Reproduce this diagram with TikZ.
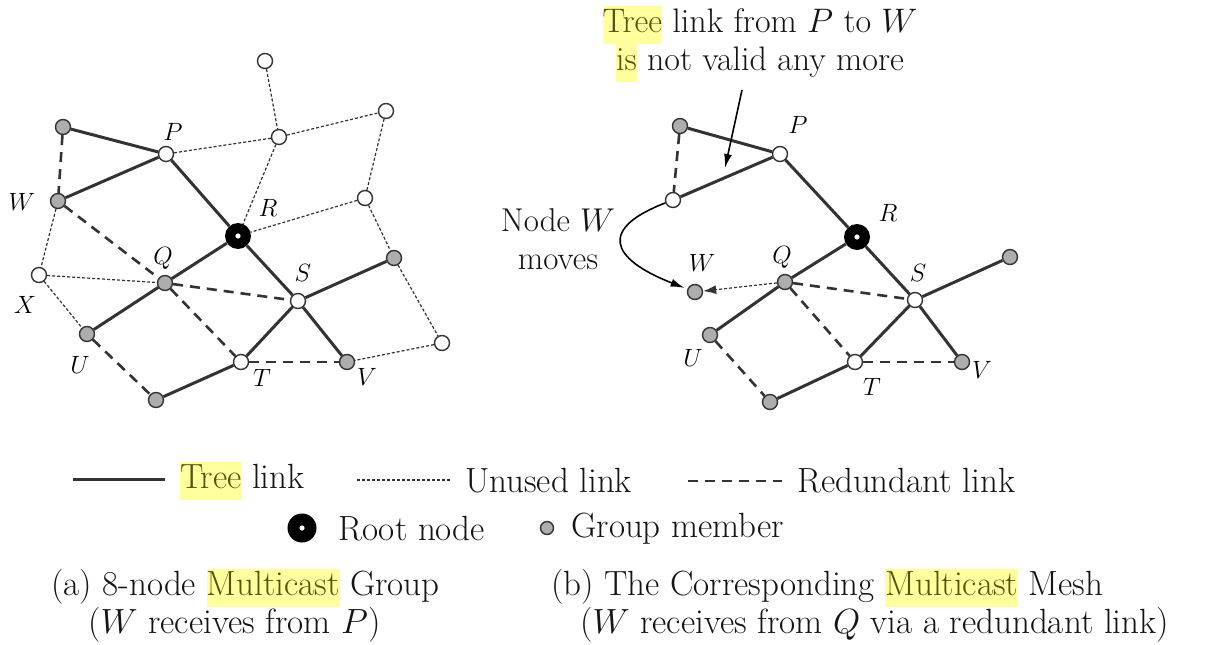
\RequirePackage{fix-cm}
\documentclass[tikz,border=0pt]{standalone}
\usepackage{tikz}
\usetikzlibrary{arrows.meta}

\definecolor{linegray}{gray}{0.2}
\definecolor{membergray}{gray}{0.68}
\definecolor{hlyellow}{rgb}{1,1,0.62}
\definecolor{hltext}{rgb}{0.33,0.33,0.05}
\newcommand{\hlword}[1]{{\setlength{\fboxsep}{0pt}\colorbox{hlyellow}{\strut\color{hltext}#1}}}

\tikzset{
  plain/.style={circle,draw=linegray,line width=1.4pt,fill=white,inner sep=0pt,minimum size=15pt},
  member/.style={plain,fill=membergray},
  root/.style={circle,fill=black,inner sep=0pt,minimum size=26pt,
    path picture={\fill[white] (path picture bounding box.center) circle (2.6pt);}},
  tree/.style={draw=linegray,line width=3pt},
  unused/.style={draw=linegray,line width=1.2pt,dash pattern=on 3pt off 2pt},
  redundant/.style={draw=linegray,line width=2.6pt,dash pattern=on 10pt off 7pt},
  lbl/.style={inner sep=0pt,font=\fontsize{25}{30}\selectfont},
  txt/.style={inner sep=0pt,anchor=west,text=black!92,font=\fontsize{35}{38}\selectfont}
}

\begin{document}
\begin{tikzpicture}[x=1pt,y=-1pt]

\useasboundingbox (0,0) rectangle (1205,645);

\node[plain] (aTop) at (265,61) {};
\node[member] (aA) at (63,127) {};
\node[plain] (aP) at (166,154) {};
\node[plain] (aRt) at (279,137) {};
\node[plain] (aFRt) at (386,111) {};
\node[member] (aW) at (58,201) {};
\node[root] (aR) at (238,236) {};
\node[plain] (aRM) at (365,198) {};
\node[plain] (aX) at (39,275) {};
\node[member] (aQ) at (165,283) {};
\node[member] (aRG) at (394,258) {};
\node[plain] (aS) at (298,301) {};
\node[member] (aU) at (87,334) {};
\node[plain] (aFRb) at (442,343) {};
\node[plain] (aT) at (241,362) {};
\node[member] (aV) at (347,362) {};
\node[member] (aB) at (156,400) {};

\draw[tree] (aA) -- (aP);
\draw[tree] (aP) -- (aW);
\draw[tree] (aP) -- (aR);
\draw[tree] (aR) -- (aQ);
\draw[tree] (aQ) -- (aU);
\draw[tree] (aR) -- (aS);
\draw[tree] (aS) -- (aV);
\draw[tree] (aS) -- (aT);
\draw[tree] (aT) -- (aB);
\draw[tree] (aS) -- (aRG);

\draw[unused] (aTop) -- (aRt);
\draw[unused] (aRt) -- (aP);
\draw[unused] (aRt) -- (aFRt);
\draw[unused] (aRt) -- (aR);
\draw[unused] (aFRt) -- (aRM);
\draw[unused] (aRM) -- (aR);
\draw[unused] (aRM) -- (aRG);
\draw[unused] (aRG) -- (aFRb);
\draw[unused] (aFRb) -- (aV);
\draw[unused] (aW) -- (aX);
\draw[unused] (aX) -- (aQ);
\draw[unused] (aX) -- (aU);

\draw[redundant] (aA) -- (aW);
\draw[redundant] (aW) -- (aQ);
\draw[redundant] (aQ) -- (aT);
\draw[redundant] (aQ) -- (aS);
\draw[redundant] (aU) -- (aB);
\draw[redundant] (aT) -- (aV);

\node[lbl] (aPl) at (173,132) {$P$};
\node[lbl] (aWl) at (22,202) {$W$};
\node[lbl] (aRl) at (268,208) {$R$};
\node[lbl] (aQl) at (163,258) {$Q$};
\node[lbl] (aSl) at (303,273) {$S$};
\node[lbl] (aXl) at (25,305) {$X$};
\node[lbl] (aUl) at (80,365) {$U$};
\node[lbl] (aTl) at (262,378) {$T$};
\node[lbl] (aVl) at (367,377) {$V$};

\node[member] (bA) at (680,126) {};
\node[plain] (bP) at (780,154) {};
\node[plain] (bWo) at (673,200) {};
\node[root] (bR) at (857,237) {};
\node[member] (bQ) at (785,282) {};
\node[member] (bWn) at (695,292) {};
\node[member] (bG) at (1010,257) {};
\node[plain] (bS) at (915,300) {};
\node[member] (bU) at (710,335) {};
\node[plain] (bT) at (855,362) {};
\node[member] (bV) at (962,362) {};
\node[member] (bB) at (770,402) {};

\draw[tree] (bA) -- (bP);
\draw[tree] (bP) -- (bWo);
\draw[tree] (bP) -- (bR);
\draw[tree] (bR) -- (bQ);
\draw[tree] (bQ) -- (bU);
\draw[tree] (bR) -- (bS);
\draw[tree] (bS) -- (bV);
\draw[tree] (bS) -- (bT);
\draw[tree] (bT) -- (bB);
\draw[tree] (bS) -- (bG);

\draw[redundant] (bA) -- (bWo);
\draw[redundant] (bQ) -- (bS);
\draw[redundant] (bQ) -- (bT);
\draw[redundant] (bU) -- (bB);
\draw[redundant] (bT) -- (bV);
\draw[unused,-{Latex[length=13pt,width=9pt]}] (bQ) -- (bWn);

\node[lbl] (bPl) at (798,125) {$P$};
\node[lbl] (bRl) at (888,213) {$R$};
\node[lbl] (bQl) at (782,257) {$Q$};
\node[lbl] (bSl) at (918,273) {$S$};
\node[lbl] (bUl) at (693,358) {$U$};
\node[lbl] (bTl) at (872,387) {$T$};
\node[lbl] (bVl) at (982,370) {$V$};
\node[lbl] (bWl) at (702,263) {$W$};

\node[inner sep=0pt,align=center,text=black!92,font=\fontsize{34}{38}\selectfont] (note) at (760,44)
  {\hlword{Tree} link from $P$ to $W$\\ \hlword{is} not valid any more};
\coordinate (noteTail) at (742,90);
\coordinate (noteTip) at (725,168);
\draw[line width=1.6pt,-{Latex[length=14pt,width=8pt]}] (noteTail) -- (noteTip);

\node[inner sep=0pt,align=center,text=black!92,font=\fontsize{33}{38}\selectfont] (moves) at (558,239)
  {Node $W$\\ moves};
\draw[line width=1.6pt,shorten >=3pt,-{Latex[length=14pt,width=8pt]}]
  (bWo) .. controls (600,228) and (608,258) .. (bWn);

\coordinate (kTree1) at (73,479);
\coordinate (kTree2) at (165,479);
\draw[tree] (kTree1) -- (kTree2);
\node[txt] (kTreeT) at (180,481) {\hlword{Tree} link};
\coordinate (kUnused1) at (357,480);
\coordinate (kUnused2) at (450,480);
\draw[unused] (kUnused1) -- (kUnused2);
\node[txt] (kUnusedT) at (465,481) {Unused link};
\coordinate (kRed1) at (688,481);
\coordinate (kRed2) at (782,481);
\draw[redundant] (kRed1) -- (kRed2);
\node[txt] (kRedT) at (797,481) {Redundant link};

\node[root,minimum size=29pt] (kRoot) at (302,528) {};
\node[txt] (kRootT) at (338,529) {Root node};
\node[member,minimum size=13pt] (kMember) at (547,528) {};
\node[txt] (kMemberT) at (571,529) {Group member};

\node[txt] (capA) at (51,588) {(a) 8-node \hlword{Multicast} Group};
\node[txt] (capA2) at (88,625) {($W$ receives from $P$)};
\node[txt] (capB) at (551,588) {(b) The Corresponding \hlword{Multicast} Mesh};
\node[txt] (capB2) at (580,625) {($W$ receives from $Q$ via a redundant link)};

\end{tikzpicture}
\end{document}
